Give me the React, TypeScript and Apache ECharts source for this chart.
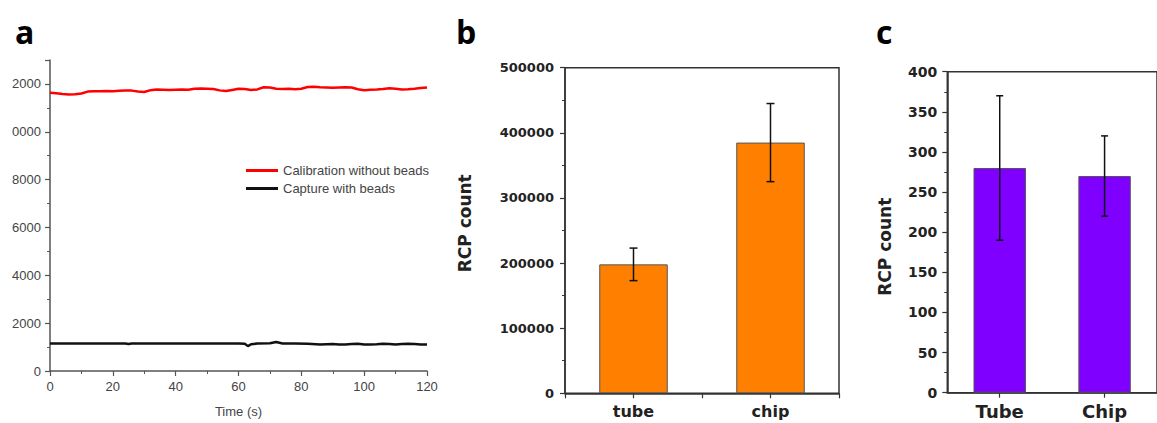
import React, { useEffect, useRef } from 'react';
import * as echarts from 'echarts';

// ---- Panel a: time traces ----
const calibTimes = [0,2,4,6,8,10,12,14,16,18,20,22,24,26,28,30,32,34,36,38,40,42,44,46,48,50,52,54,56,58,60,62,64,66,68,70,72,74,76,78,80,82,84,86,88,90,92,94,96,98,100,102,104,106,108,110,112,114,116,118,120];
const calibValues = [11630,11610,11580,11560,11570,11600,11680,11690,11690,11700,11690,11710,11730,11720,11680,11660,11740,11770,11760,11750,11760,11770,11760,11800,11810,11800,11790,11730,11700,11750,11800,11790,11750,11770,11860,11850,11800,11790,11800,11780,11800,11870,11880,11860,11850,11840,11850,11860,11850,11780,11740,11760,11770,11790,11820,11800,11770,11780,11800,11830,11850];
const captureTimes = [0,5,10,15,20,24,25,26,30,35,40,45,50,55,60,62,63,64,66,70,72,74,78,82,86,88,90,92,94,96,98,100,102,104,106,108,110,112,114,116,118,120];
const captureValues = [1150,1150,1150,1150,1150,1150,1130,1150,1150,1150,1150,1150,1150,1150,1150,1140,1040,1120,1150,1160,1210,1150,1150,1140,1110,1120,1130,1110,1110,1130,1140,1110,1110,1120,1140,1130,1110,1130,1140,1130,1110,1110];
const aSeriesNames = ['Calibration without beads', 'Capture with beads'];
const aYTickValues = [0, 2000, 4000, 6000, 8000, 10000, 12000];
const aYTickLabels = ['0', '2000', '4000', '6000', '8000', '0000', '2000'];
const aXName = 'Time (s)';

// ---- Panel b ----
const bCategories = ['tube', 'chip'];
const bValues = [198000, 385000];
const bLow = [173000, 325000];
const bHigh = [223000, 445000];

// ---- Panel c ----
const cCategories = ['Tube', 'Chip'];
const cValues = [280, 270];
const cLow = [190, 220];
const cHigh = [370, 320];

const yName = 'RCP count';
const panelLetters = ['a', 'b', 'c'];

const fontA = '"Liberation Sans", Arial, sans-serif';
const fontB = '"DejaVu Sans", sans-serif';

export default function App() {
  const ref = useRef<HTMLDivElement>(null);
  useEffect(() => {
    const chart = echarts.init(ref.current!, null, { renderer: 'svg' });
    const errRender = (cap: number) => (params: any, api: any) => {
      const x = api.value(0);
      const lo = api.coord([x, api.value(1)]);
      const hi = api.coord([x, api.value(2)]);
      const st = { stroke: '#111', lineWidth: 1.5 };
      return {
        type: 'group',
        children: [
          { type: 'line', shape: { x1: lo[0], y1: lo[1], x2: hi[0], y2: hi[1] }, style: st },
          { type: 'line', shape: { x1: lo[0] - cap, y1: lo[1], x2: lo[0] + cap, y2: lo[1] }, style: st },
          { type: 'line', shape: { x1: hi[0] - cap, y1: hi[1], x2: hi[0] + cap, y2: hi[1] }, style: st },
        ],
      };
    };
    const aAxisColor = '#555';
    const bAxisColor = '#333';
    const valueAxisCommon = (color: string) => ({
      axisLine: { show: true, lineStyle: { color, width: 1.5 } },
      axisTick: { show: true, length: 5, lineStyle: { color, width: 1.2 } },
      minorTick: { show: true, splitNumber: 2, length: 3, lineStyle: { color, width: 1 } },
      splitLine: { show: false },
    });
    const plain = (v: number) => String(v);
    chart.setOption({
      animation: false,
      backgroundColor: '#fff',
      grid: [
        { left: 50, top: 60, width: 377, height: 313.3, show: false },
        { left: 565, top: 67.7, width: 274, height: 325.6, show: true, borderColor: bAxisColor, borderWidth: 1.5, backgroundColor: 'transparent' },
        { left: 947.3, top: 71.7, width: 218.6, height: 321, show: true, borderColor: bAxisColor, borderWidth: 1.5, backgroundColor: 'transparent' },
      ],
      legend: {
        data: aSeriesNames,
        left: 241,
        top: 158,
        orient: 'vertical',
        itemWidth: 32,
        itemHeight: 3,
        itemGap: 3,
        icon: 'rect',
        textStyle: { fontSize: 13, color: '#444', fontFamily: fontA, lineHeight: 15 },
      },
      xAxis: [
        {
          gridIndex: 0, type: 'value', min: 0, max: 120, interval: 20,
          ...valueAxisCommon(aAxisColor),
          axisLabel: { color: '#444', fontSize: 13, fontFamily: fontA, margin: 9 },
          name: aXName, nameLocation: 'middle', nameGap: 34,
          nameTextStyle: { color: '#444', fontSize: 13, fontFamily: fontA },
        },
        {
          gridIndex: 1, type: 'category', data: bCategories,
          axisLine: { show: true, lineStyle: { color: bAxisColor, width: 1.5 } },
          axisTick: { show: true, alignWithLabel: true, length: 5, lineStyle: { color: bAxisColor, width: 1.2 } },
          axisLabel: { color: '#222', fontSize: 16, fontWeight: 'bold', fontFamily: fontB, margin: 10 },
        },
        {
          gridIndex: 1, type: 'category', data: bCategories, position: 'bottom',
          axisLine: { show: false },
          axisTick: { show: true, length: 5, lineStyle: { color: bAxisColor, width: 1.2 } },
          axisLabel: { show: false },
        },
        {
          gridIndex: 2, type: 'category', data: cCategories,
          axisLine: { show: true, lineStyle: { color: bAxisColor, width: 1.5 } },
          axisTick: { show: true, alignWithLabel: true, length: 5, lineStyle: { color: bAxisColor, width: 1.2 } },
          axisLabel: { color: '#222', fontSize: 18, fontWeight: 'bold', fontFamily: fontB, margin: 10 },
        },
      ],
      yAxis: [
        {
          gridIndex: 0, type: 'value', min: 0, max: 13000, interval: 2000,
          ...valueAxisCommon(aAxisColor),
          axisLabel: {
            color: '#444', fontSize: 13, fontFamily: fontA, margin: 9,
            formatter: (v: number) => {
              const i = aYTickValues.indexOf(v);
              return i >= 0 ? aYTickLabels[i] : '';
            },
          },
        },
        {
          gridIndex: 1, type: 'value', min: 0, max: 500000, interval: 100000,
          ...valueAxisCommon(bAxisColor),
          axisLabel: { color: '#222', fontSize: 13, fontWeight: 'bold', fontFamily: fontB, margin: 11, formatter: plain },
        },
        {
          gridIndex: 2, type: 'value', min: 0, max: 400, interval: 50,
          ...valueAxisCommon(bAxisColor),
          axisLabel: { color: '#222', fontSize: 14, fontWeight: 'bold', fontFamily: fontB, margin: 10, formatter: plain },
        },
      ],
      series: [
        {
          name: aSeriesNames[0], type: 'line', xAxisIndex: 0, yAxisIndex: 0,
          data: calibTimes.map((t, i) => [t, calibValues[i]]),
          showSymbol: false, symbol: 'none',
          lineStyle: { color: '#ff0000', width: 2.5 }, itemStyle: { color: '#ff0000' },
        },
        {
          name: aSeriesNames[1], type: 'line', xAxisIndex: 0, yAxisIndex: 0,
          data: captureTimes.map((t, i) => [t, captureValues[i]]),
          showSymbol: false, symbol: 'none',
          lineStyle: { color: '#111', width: 2.5 }, itemStyle: { color: '#111' },
        },
        {
          type: 'bar', xAxisIndex: 1, yAxisIndex: 1, data: bValues, barWidth: '50%',
          itemStyle: { color: '#ff8000', borderColor: '#555', borderWidth: 1 },
        },
        {
          type: 'custom', xAxisIndex: 1, yAxisIndex: 1,
          data: bCategories.map((_, i) => [i, bLow[i], bHigh[i]]),
          renderItem: errRender(4),
          z: 5,
        },
        {
          type: 'bar', xAxisIndex: 3, yAxisIndex: 2, data: cValues, barWidth: '50%',
          itemStyle: { color: '#7f00ff', borderColor: '#555', borderWidth: 1 },
        },
        {
          type: 'custom', xAxisIndex: 3, yAxisIndex: 2,
          data: cCategories.map((_, i) => [i, cLow[i], cHigh[i]]),
          renderItem: errRender(3.5),
          z: 5,
        },
      ],
      graphic: [
        { type: 'text', x: 15, y: 31, style: { text: panelLetters[0], fontSize: 32, fontWeight: 'bold', fontFamily: '"Open Sans", sans-serif', fill: '#000', verticalAlign: 'middle' } },
        { type: 'text', x: 456, y: 31, style: { text: panelLetters[1], fontSize: 32, fontWeight: 'bold', fontFamily: '"Open Sans", sans-serif', fill: '#000', verticalAlign: 'middle' } },
        { type: 'text', x: 876, y: 31, style: { text: panelLetters[2], fontSize: 32, fontWeight: 'bold', fontFamily: '"Open Sans", sans-serif', fill: '#000', verticalAlign: 'middle' } },
        { type: 'text', x: 465, y: 223.3, rotation: Math.PI / 2, style: { text: yName, fontSize: 17, fontWeight: 'bold', fontFamily: fontB, fill: '#222', align: 'center', verticalAlign: 'middle' } },
        { type: 'text', x: 885, y: 246.7, rotation: Math.PI / 2, style: { text: yName, fontSize: 17, fontWeight: 'bold', fontFamily: fontB, fill: '#222', align: 'center', verticalAlign: 'middle' } },
      ],
    });
    return () => chart.dispose();
  }, []);
  return <div ref={ref} style={{ position: 'absolute', left: 0, top: 0, width: 1157, height: 423 }} />;
}
